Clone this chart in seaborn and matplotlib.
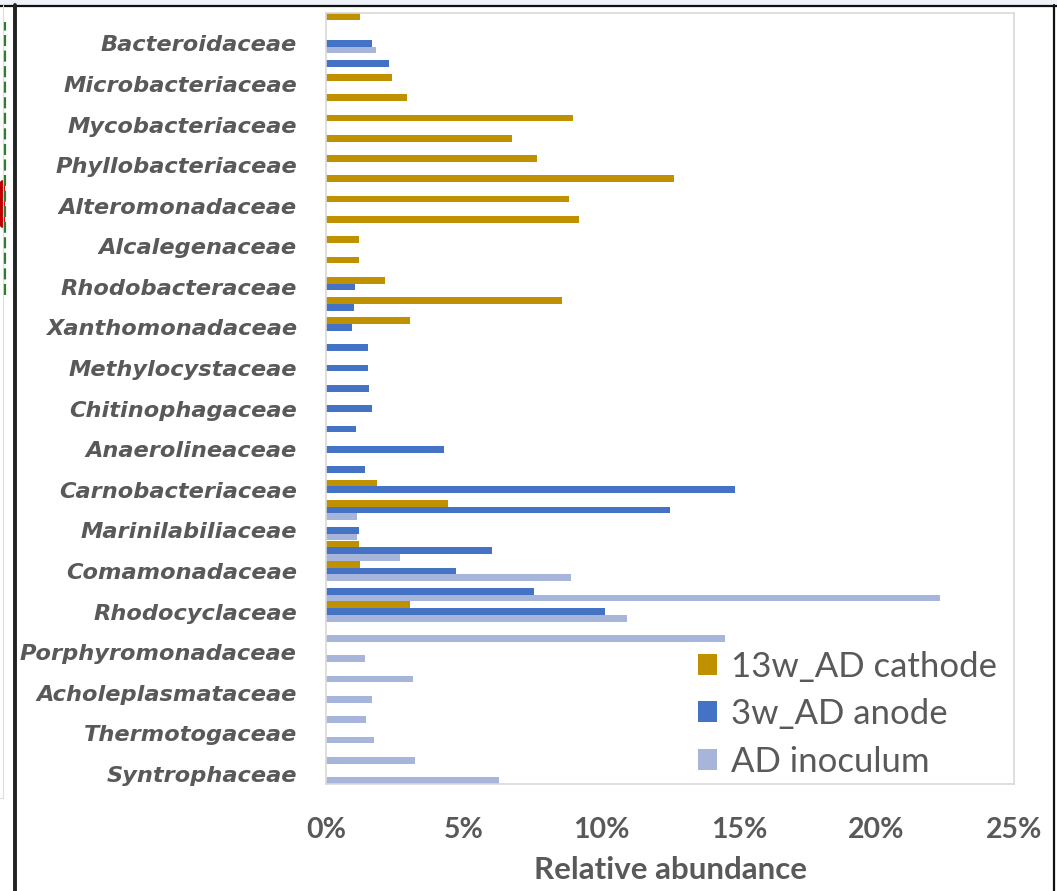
import numpy as np
import pandas as pd
import seaborn as sns
import matplotlib.pyplot as plt
from matplotlib.lines import Line2D
from matplotlib.patches import Rectangle, FancyBboxPatch
from matplotlib.ticker import FuncFormatter

# Relative abundance (%) per family row, listed top to bottom (38 rows).
cathode_13w = [1.24, 0, 0, 2.40, 2.95, 8.99, 6.77, 7.68, 12.63, 8.84,
               9.21, 1.20, 1.20, 2.16, 8.58, 3.07, 0, 0, 0, 0,
               0, 0, 0, 1.87, 4.44, 0, 1.20, 1.25, 0, 3.07,
               0, 0, 0, 0, 0, 0, 0, 0]
anode_3w = [0, 1.67, 2.29, 0, 0, 0, 0, 0, 0, 0,
            0, 0, 0, 1.04, 1.01, 0.96, 1.54, 1.54, 1.58, 1.66,
            1.08, 4.27, 1.41, 14.87, 12.51, 1.20, 6.05, 4.73, 7.54, 10.15,
            0, 0, 0, 0, 0, 0, 0, 0]
ad_inoculum = [0, 1.82, 0, 0, 0, 0, 0, 0, 0, 0,
               0, 0, 0, 0, 0, 0, 0, 0, 0, 0,
               0, 0, 0, 0, 1.12, 1.12, 2.69, 8.90, 22.30, 10.94,
               14.50, 1.41, 3.15, 1.66, 1.46, 1.73, 3.23, 6.30]

series_names = ["13w_AD cathode", "3w_AD anode", "AD inoculum"]
series_colors = ["#BF9000", "#4472C4", "#A8B5DB"]

# Axis labels shown on every second row (rows 1, 3, ..., 37).
family_labels = ["Bacteroidaceae", "Microbacteriaceae", "Mycobacteriaceae",
                 "Phyllobacteriaceae", "Alteromonadaceae", "Alcalegenaceae",
                 "Rhodobacteraceae", "Xanthomonadaceae", "Methylocystaceae",
                 "Chitinophagaceae", "Anaerolineaceae", "Carnobacteriaceae",
                 "Marinilabiliaceae", "Comamonadaceae", "Rhodocyclaceae",
                 "Porphyromonadaceae", "Acholeplasmataceae", "Thermotogaceae",
                 "Syntrophaceae"]
x_ticks = [0, 5, 10, 15, 20, 25]

n_rows = len(cathode_13w)
rows = np.arange(n_rows)
df = pd.DataFrame({
    "row": np.tile(rows, 3),
    "series": np.repeat(series_names, n_rows),
    "value": np.concatenate([cathode_13w, anode_3w, ad_inoculum]),
})

sns.set_theme(style="white")
text_gray = "#595959"

fig = plt.figure(figsize=(10.57, 8.91), dpi=100)
fig.patch.set_facecolor("white")
ax = fig.add_axes([326 / 1057, 1 - 784 / 891, (1014 - 326) / 1057, (784 - 13) / 891])

sns.barplot(data=df, x="value", y="row", hue="series", orient="h",
            hue_order=series_names, palette=series_colors, order=list(rows),
            width=0.99, gap=0, dodge=True, saturation=1, errorbar=None,
            linewidth=0, ax=ax)

ax.set_xlim(0, 25)
ax.set_ylim(n_rows - 0.5, -0.5)
ax.set_xticks(x_ticks)
ax.xaxis.set_major_formatter(FuncFormatter(lambda v, p: f"{v:.0f}%"))
ax.set_yticks(rows[1::2])
ax.set_yticklabels(family_labels)

for lab in ax.get_yticklabels():
    lab.set_fontfamily("DejaVu Sans")
    lab.set_fontweight("bold")
    lab.set_fontstyle("oblique")
    lab.set_fontsize(16.2)
    lab.set_color(text_gray)
for lab in ax.get_xticklabels():
    lab.set_fontfamily("Lato")
    lab.set_fontweight("bold")
    lab.set_fontsize(20.5)
    lab.set_color(text_gray)

ax.tick_params(axis="y", length=0, pad=21)
ax.tick_params(axis="x", length=0, pad=24)
ax.set_ylabel("")
ax.set_xlabel("Relative abundance", fontfamily="Lato", fontweight="bold",
              fontsize=22.5, color=text_gray, labelpad=9)

for side in ["left", "right", "top", "bottom"]:
    ax.spines[side].set_visible(True)
    ax.spines[side].set_color("#D9D9D9")
    ax.spines[side].set_linewidth(1.2)
ax.grid(False)

handles, labels = ax.get_legend_handles_labels()
ax.legend(handles, labels, loc="upper left", bbox_to_anchor=(0.54, 0.173),
          frameon=False, prop={"family": "Lato", "size": 25},
          labelcolor=text_gray, handlelength=0.55, handleheight=0.55,
          handletextpad=0.4, labelspacing=0.45, borderpad=0, borderaxespad=0)

# Surrounding frame of the figure panel
fig.add_artist(Rectangle((0, 1 - 5 / 891), 1, 5 / 891, transform=fig.transFigure,
                         facecolor="#EEF2F9", edgecolor="none"))
fig.add_artist(Line2D([0, 1], [1 - 5.5 / 891] * 2, transform=fig.transFigure,
                      color="#111111", linewidth=1.6))
fig.add_artist(Line2D([15.3 / 1057] * 2, [0, 1 - 5 / 891], transform=fig.transFigure,
                      color="#222222", linewidth=2.8))
fig.add_artist(Line2D([1053.5 / 1057] * 2, [0, 1 - 5 / 891], transform=fig.transFigure,
                      color="#111111", linewidth=1.6))
fig.add_artist(Line2D([3 / 1057] * 2, [1 - 798 / 891, 1 - 5 / 891], transform=fig.transFigure,
                      color="#DDDDDD", linewidth=0.8))
fig.add_artist(Line2D([0, 3 / 1057], [1 - 798 / 891] * 2, transform=fig.transFigure,
                      color="#DDDDDD", linewidth=0.8))
fig.add_artist(Line2D([5 / 1057] * 2, [1 - 295 / 891, 1 - 22 / 891], transform=fig.transFigure,
                      color="#2E7D32", linewidth=1.6, linestyle=(0, (5, 2))))
fig.add_artist(FancyBboxPatch((0, 1 - 228 / 891), 5 / 1057, 48 / 891,
                              boxstyle="round,pad=0,rounding_size=0.003",
                              transform=fig.transFigure, facecolor="#C00000",
                              edgecolor="none"))

fig.savefig("out.png", dpi=100)
